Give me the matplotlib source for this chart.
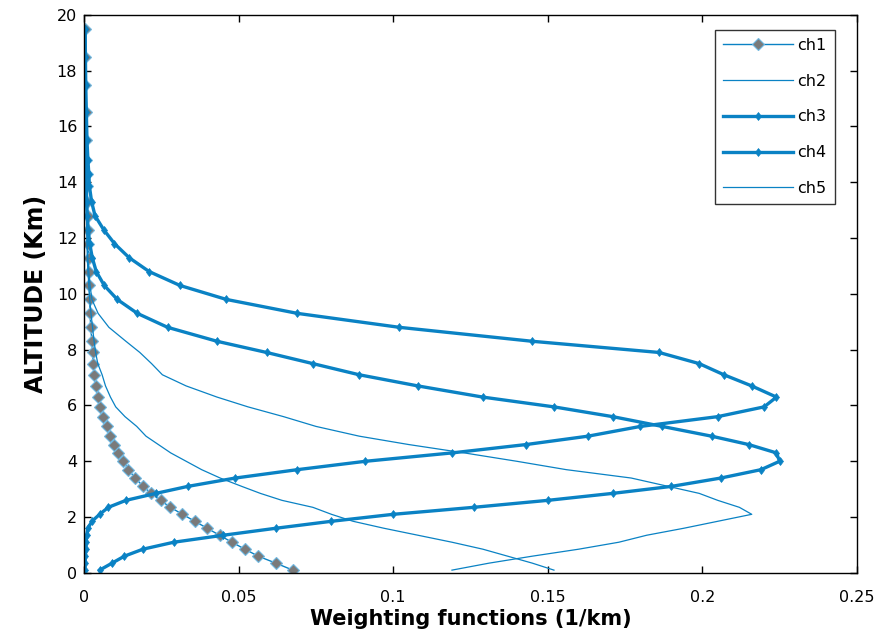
import matplotlib as mpl
mpl.use('Agg')
import matplotlib.pyplot as plt

plt.rcParams['font.family'] = ['DejaVu Sans']

# altitude levels (km)
alt = [0.1, 0.35, 0.6, 0.85, 1.1, 1.35, 1.6, 1.85, 2.1, 2.35, 2.6, 2.85, 3.1, 3.4,
       3.7, 4.0, 4.3, 4.6, 4.9, 5.25, 5.6, 5.95, 6.3, 6.7, 7.1, 7.5, 7.9, 8.3, 8.8,
       9.3, 9.8, 10.3, 10.8, 11.3, 11.8, 12.3, 12.8, 13.3, 13.85, 14.3, 14.8, 15.5,
       16.5, 17.5, 18.5, 19.5]

ch1 = [0.0675, 0.062, 0.0563, 0.052, 0.0478, 0.0438, 0.0398, 0.0358, 0.0318, 0.0279,
       0.0247, 0.0216, 0.0191, 0.0165, 0.0143, 0.0127, 0.0111, 0.0095, 0.0084, 0.0073,
       0.0062, 0.0052, 0.0044, 0.0037, 0.0033, 0.0029, 0.0027, 0.0025, 0.0021, 0.0019,
       0.0018, 0.0016, 0.0015, 0.0014, 0.0013, 0.0012, 0.0011, 0.0010, 0.0009, 0.0008,
       0.0007, 0.0006, 0.0005, 0.0004, 0.0003, 0.0002]

ch2 = [0.152, 0.145, 0.137, 0.129, 0.119, 0.108, 0.097, 0.087, 0.080, 0.074,
       0.064, 0.057, 0.051, 0.044, 0.038, 0.033, 0.028, 0.024, 0.020, 0.017,
       0.0132, 0.0102, 0.0085, 0.0069, 0.0058, 0.0044, 0.0037, 0.0032, 0.0027, 0.0022,
       0.0018, 0.0015, 0.0012, 0.001, 0.0009, 0.0008, 0.0007, 0.0006, 0.0005, 0.0005,
       0.0004, 0.0004, 0.0003, 0.0003, 0.0002, 0.0002]

ch3 = [0.005, 0.009, 0.013, 0.019, 0.029, 0.045, 0.062, 0.080, 0.100, 0.126,
       0.150, 0.171, 0.190, 0.206, 0.219, 0.225, 0.224, 0.215, 0.203, 0.187,
       0.171, 0.152, 0.129, 0.108, 0.089, 0.074, 0.059, 0.043, 0.027, 0.0172,
       0.0107, 0.0065, 0.0039, 0.0026, 0.0018, 0.0013, 0.001, 0.0008, 0.0007, 0.0006,
       0.0005, 0.0004, 0.0003, 0.0003, 0.0003, 0.0003]

ch4 = [0.0002, 0.0003, 0.0004, 0.0005, 0.0006, 0.0008, 0.0012, 0.0025, 0.005, 0.0078,
       0.0135, 0.0232, 0.0335, 0.0489, 0.069, 0.091, 0.119, 0.143, 0.163, 0.180,
       0.205, 0.220, 0.224, 0.216, 0.207, 0.199, 0.186, 0.145, 0.102, 0.069,
       0.046, 0.031, 0.021, 0.0145, 0.0098, 0.0063, 0.0035, 0.0024, 0.0017, 0.0015,
       0.0012, 0.0009, 0.0007, 0.0005, 0.0004, 0.0003]

ch5 = [0.119, 0.131, 0.145, 0.160, 0.173, 0.182, 0.194, 0.205, 0.216, 0.212,
       0.205, 0.199, 0.189, 0.177, 0.156, 0.140, 0.123, 0.105, 0.089, 0.075,
       0.0645, 0.053, 0.043, 0.033, 0.0253, 0.0218, 0.018, 0.0135, 0.008, 0.0045,
       0.0025, 0.0019, 0.0015, 0.0012, 0.001, 0.0009, 0.0008, 0.0007, 0.0006, 0.0005,
       0.0004, 0.0004, 0.0003, 0.0003, 0.0002, 0.0002]

blue = '#0a82c4'

fig = plt.figure(figsize=(8.77, 6.43), dpi=100)
ax = fig.add_axes([0.096, 0.109, 0.881, 0.868])

ax.plot(ch1, alt, '-', color=blue, lw=1, marker='D', ms=6.5,
        markerfacecolor='#7a7a7a', markeredgecolor='#6fb8e2', markeredgewidth=0.8,
        label='ch1')
ax.plot(ch2, alt, '-', color=blue, lw=0.9, label='ch2')
ax.plot(ch3, alt, '-', color=blue, lw=2.4, marker='d', ms=4.5,
        markeredgewidth=0.5, label='ch3')
ax.plot(ch4, alt, '-', color=blue, lw=2.4, marker='d', ms=4.5,
        markeredgewidth=0.5, label='ch4')
ax.plot(ch5, alt, '-', color=blue, lw=0.9, label='ch5')

ax.set_xlim(0, 0.25)
ax.set_ylim(0, 20)
ax.set_xticks([0, 0.05, 0.1, 0.15, 0.2, 0.25])
ax.set_xticklabels(['0', '0.05', '0.1', '0.15', '0.2', '0.25'])
ax.set_yticks(range(0, 21, 2))
ax.tick_params(direction='in', top=True, right=True, length=5, width=1,
               labelsize=11.5)
ax.tick_params(axis='x', pad=12)
ax.tick_params(axis='y', pad=5)
for s in ax.spines.values():
    s.set_linewidth(1)

ax.set_xlabel('Weighting functions (1/km)', fontsize=15, fontweight='bold', labelpad=3)
ax.set_ylabel('ALTITUDE (Km)', fontsize=17, fontweight='bold', labelpad=6)

leg = ax.legend(loc='upper right', bbox_to_anchor=(0.9715, 0.973), borderaxespad=0,
                fontsize=11.5, handlelength=4.4, labelspacing=1.3, fancybox=False,
                edgecolor='black', borderpad=0.5, handletextpad=0.3)
leg.get_frame().set_linewidth(1)

fig.savefig('out.png', dpi=100)
